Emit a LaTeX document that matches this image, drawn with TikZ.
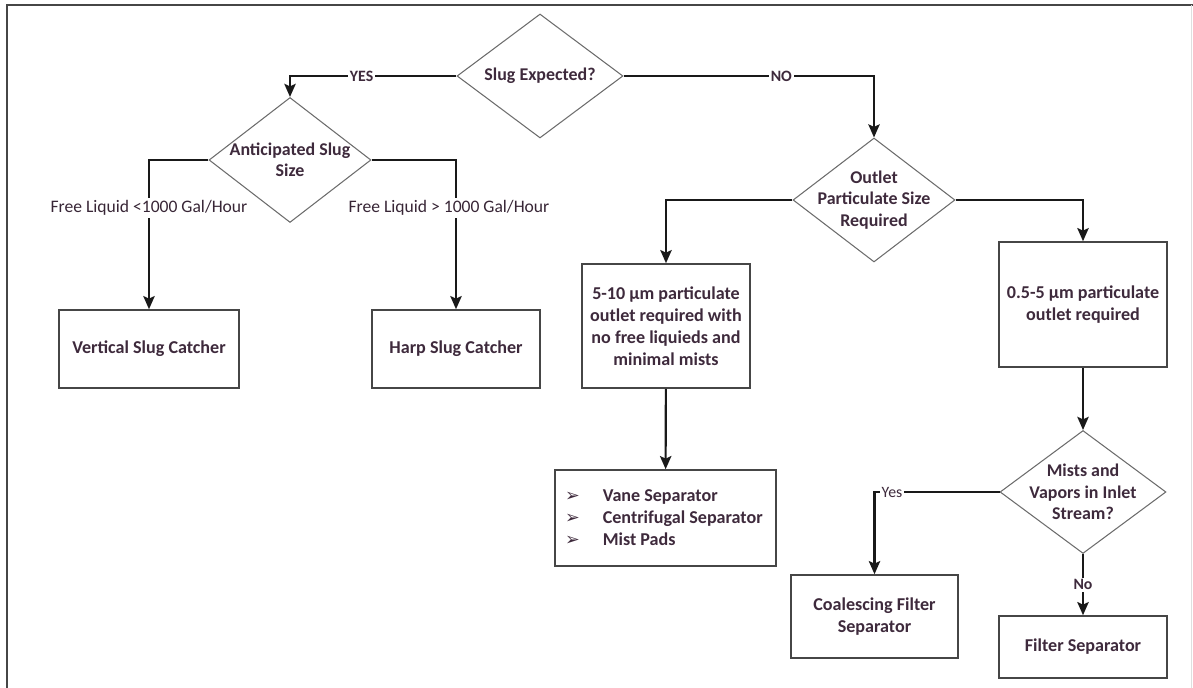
\documentclass[tikz,border=0pt]{standalone}
\usepackage{fontspec}
\setmainfont{Carlito}
\newfontfamily\dingfont{DejaVu Sans}
\usetikzlibrary{shapes.geometric,arrows.meta}

\definecolor{inkplum}{RGB}{62,42,60}
\definecolor{rulegray}{RGB}{70,70,70}

\newcommand{\itemmark}{\makebox[21.5pt][l]{\dingfont\normalsize ➢}}

\tikzset{
  flow/.style={draw=black!90, line width=1.2pt, -{Stealth[length=7.5pt, width=6.5pt, inset=1.5pt]}},
  box/.style={draw=rulegray, line width=0.9pt, rectangle, align=center, inner sep=0pt,
    text=inkplum, font=\fontsize{10.3}{12.5}\selectfont\bfseries},
  decision/.style={draw=gray!85!black, line width=0.6pt, diamond, inner sep=0pt},
  dtext/.style={text=inkplum, align=center, inner sep=0pt,
    font=\fontsize{10.2}{12.2}\selectfont\bfseries},
  branch/.style={fill=white, inner sep=1pt, text=inkplum, font=\fontsize{9}{11}\selectfont\bfseries},
  sizelabel/.style={fill=white, inner sep=1.5pt, text=inkplum!90!black, font=\fontsize{10}{12}\selectfont}
}

\begin{document}
\begin{tikzpicture}[x=0.02cm, y=-0.02cm]
  \useasboundingbox (0,0) rectangle (1193,688);
  % page frame
  \draw[rulegray, line width=1.2pt] (7,688) -- (7,5) -- (1193,5);
  \draw[gray!25, line width=0.4pt] (1191,5) -- (1191,688);

  % decisions
  \node[decision, minimum width=3.32cm, minimum height=2.48cm,
    label={[dtext]center:Slug Expected?}] (slug) at (540,76) {};
  \node[decision, minimum width=3.24cm, minimum height=2.5cm,
    label={[dtext]center:{Anticipated Slug\\Size}}] (antic) at (290,160) {};
  \node[decision, minimum width=3.24cm, minimum height=2.48cm,
    label={[dtext]center:{Outlet\\Particulate Size\\Required}}] (outlet) at (874,200) {};
  \node[decision, minimum width=3.32cm, minimum height=2.46cm,
    label={[dtext]center:{Mists and\\Vapors in Inlet\\Stream?}}] (mists) at (1083,492) {};

  % outcomes
  \node[box, minimum width=3.6cm, minimum height=1.56cm] (vslug) at (149,349) {Vertical Slug Catcher};
  \node[box, minimum width=3.36cm, minimum height=1.56cm] (hslug) at (456,349) {Harp Slug Catcher};
  \node[box, minimum width=3.36cm, minimum height=2.48cm] (midsize) at (666,326)
    {5-10 µm particulate\\outlet required with\\no free liquieds and\\minimal mists};
  \node[box, minimum width=3.36cm, minimum height=2.5cm] (finesize) at (1083,304.5)
    {0.5-5 µm particulate\\outlet required};
  \node[box, minimum width=4.42cm, minimum height=1.92cm, text width=4.02cm, align=flush left] (vanes) at (665.5,518)
    {\itemmark Vane Separator\\\itemmark Centrifugal Separator\\\itemmark Mist Pads};
  \node[box, minimum width=3.34cm, minimum height=1.66cm] (coalesce) at (874.5,616.5) {Coalescing Filter\\Separator};
  \node[box, minimum width=3.36cm, minimum height=1.24cm] (filtsep) at (1083,647) {Filter Separator};

  % connectors
  \draw[flow] (slug.west) -| node[branch, pos=0.285] {YES} (antic.north);
  \draw[flow] (slug.east) -| node[branch, pos=0.315] {NO} (outlet.north);
  \draw[flow] (antic.west) -| node[sizelabel, pos=0.66] {Free Liquid <1000 Gal/Hour} (vslug.north);
  \draw[flow] (antic.east) -| node[sizelabel, pos=0.66, xshift=-0.14cm] {Free Liquid > 1000 Gal/Hour} (hslug.north);
  \draw[flow] (outlet.west) -| (midsize.north);
  \draw[flow] (outlet.east) -| (finesize.north);
  \draw[flow] (midsize) -- (vanes);
  \draw[flow] (finesize) -- (mists);
  \draw[flow] (mists.west) -| node[branch, pos=0.43, font=\fontsize{9}{11}\selectfont] {Yes} (coalesce.north);
  \draw[flow] (mists) -- node[branch] {No} (filtsep);
\end{tikzpicture}
\end{document}
